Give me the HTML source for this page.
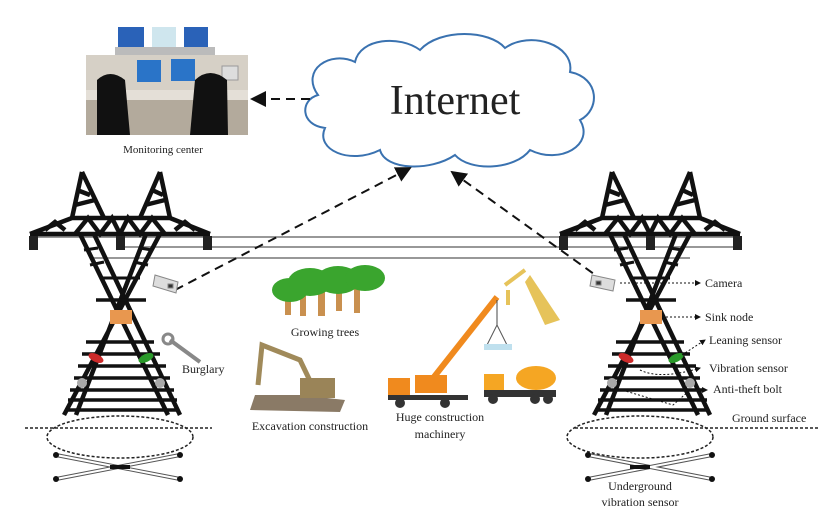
<!DOCTYPE html>
<html><head><meta charset="utf-8"><style>
html,body{margin:0;padding:0;background:#fff;}
svg{display:block;}
text{font-family:"Liberation Serif",serif;fill:#222;}
</style></head><body>
<svg width="838" height="522" viewBox="0 0 838 522" xmlns="http://www.w3.org/2000/svg">
<defs>
<marker id="ah" markerWidth="8" markerHeight="8" refX="7" refY="4" orient="auto"><path d="M0,0 L8,4 L0,8 z" fill="#111"/></marker>
<marker id="ah2" markerWidth="6" markerHeight="6" refX="5" refY="3" orient="auto"><path d="M0,0 L6,3 L0,6 z" fill="#111"/></marker>
<g id="tower" stroke="#111" stroke-width="4.5" fill="none" stroke-linejoin="miter">
  <path d="M82,172 L72,218 M82,172 L104,218 M75,205 L95,200 M77,190 L90,195"/>
  <path d="M160,172 L140,218 M160,172 L170,218 M145,205 L165,200 M152,190 L163,195"/>
  <path d="M30,234 L210,234 M30,234 L72,218 L170,218 L210,234"/>
  <path d="M45,230 L55,222 L65,230 M75,234 L88,218 L100,234 L112,218 L120,234 L128,218 L140,234 L152,218 L165,234 M175,230 L185,222 L195,230"/>
  <path d="M80,234 L168,415 M94,234 L180,415"/>
  <path d="M160,234 L64,415 M146,234 L76,415"/>
  <path d="M84,250 L98,248 M90,265 L104,262 M152,250 L140,248 M148,265 L134,262 M100,278 L140,278" stroke-width="3"/>
  <path d="M96,300 L146,300 M86,342 L154,342 M82,354 L160,354 M78,366 L166,366 M74,378 L170,378 M70,390 L174,390 M68,400 L177,400 M65,410 L179,410" stroke-width="3.5"/>
  <g fill="#222" stroke="none"><rect x="29" y="236" width="9" height="14"/><rect x="116" y="236" width="9" height="14"/><rect x="203" y="236" width="9" height="14"/></g>
  <rect x="110" y="310" width="22" height="14" fill="#e8974f" stroke="none"/>
  <ellipse cx="96" cy="358" rx="8" ry="4" fill="#cc2a2a" stroke="none" transform="rotate(25 96 358)"/>
  <ellipse cx="146" cy="358" rx="8" ry="4" fill="#2a9a2a" stroke="none" transform="rotate(-25 146 358)"/>
  <circle cx="82" cy="383" r="5" fill="#aaa" stroke="none"/>
  <circle cx="160" cy="383" r="5" fill="#aaa" stroke="none"/>
</g>
</defs>

<g stroke="#777" stroke-width="1.5">
<line x1="38" y1="237" x2="740" y2="237"/>
<line x1="125" y1="247" x2="740" y2="247"/>
<line x1="93" y1="258" x2="690" y2="258"/>
</g>

<use href="#tower"/>
<use href="#tower" x="530"/>

<rect x="86" y="55" width="162" height="80" fill="#d6d0c6"/>
<rect x="86" y="100" width="162" height="35" fill="#b3aa9c"/>
<rect x="86" y="90" width="162" height="10" fill="#e4dfd7"/>
<rect x="118" y="27" width="26" height="20" fill="#2a62b8"/>
<rect x="152" y="27" width="24" height="20" fill="#cfe6ee"/>
<rect x="184" y="27" width="24" height="20" fill="#2a62b8"/>
<rect x="115" y="47" width="100" height="8" fill="#bbb"/>
<rect x="137" y="60" width="24" height="22" fill="#2a74c8"/>
<rect x="171" y="59" width="24" height="22" fill="#2a74c8"/>
<rect x="222" y="66" width="16" height="14" fill="#ddd" stroke="#999"/>
<path d="M97,135 L97,80 Q110,68 125,80 L130,135 z" fill="#111"/>
<path d="M190,135 L195,80 Q210,66 227,80 L228,135 z" fill="#111"/>
<text x="163" y="153" font-size="11" text-anchor="middle">Monitoring center</text>

<path d="M318,95 C300,70 330,50 355,62 C360,38 400,35 420,50 C440,28 490,30 505,48 C530,30 575,45 570,72 C600,78 600,110 580,120 C595,145 560,165 530,150 C515,170 470,172 455,155 C430,172 385,170 380,150 C350,165 315,150 325,128 C300,125 300,100 318,95 z" fill="#fff" stroke="#3a72b0" stroke-width="2"/>
<text x="455" y="114" font-size="42" text-anchor="middle">Internet</text>

<g stroke="#111" stroke-width="2" stroke-dasharray="9,6" fill="none">
<line x1="310" y1="99" x2="252" y2="99" marker-end="url(#ah)"/>
<line x1="175" y1="290" x2="410" y2="168" marker-end="url(#ah)"/>
<line x1="605" y1="282" x2="452" y2="172" marker-end="url(#ah)"/>
</g>

<g fill="#ddd" stroke="#888" stroke-width="1">
<path d="M155,275 L178,282 L176,293 L153,286 z"/><rect x="168" y="284" width="5" height="4" fill="#333"/>
<path d="M592,275 L615,280 L613,291 L590,286 z"/><rect x="596" y="281" width="5" height="4" fill="#333"/>
</g>

<path d="M170,340 L200,362" stroke="#888" stroke-width="4"/>
<circle cx="168" cy="339" r="5" fill="none" stroke="#888" stroke-width="3"/>
<text x="182" y="373" font-size="12">Burglary</text>

<g fill="#c9904f"><rect x="285" y="290" width="6" height="25"/><rect x="300" y="288" width="6" height="28"/><rect x="318" y="290" width="7" height="26"/><rect x="336" y="285" width="6" height="26"/><rect x="354" y="285" width="6" height="28"/></g>
<g fill="#3aa52e"><ellipse cx="290" cy="290" rx="18" ry="12"/><ellipse cx="310" cy="282" rx="22" ry="14"/><ellipse cx="338" cy="280" rx="22" ry="14"/><ellipse cx="365" cy="278" rx="20" ry="13"/></g>
<text x="325" y="336" font-size="12" text-anchor="middle">Growing trees</text>

<path d="M250,410 L340,412 L345,400 L300,395 L255,395 z" fill="#8a7a66"/>
<path d="M258,385 L262,345 L300,360 L312,385" stroke="#a08a5a" stroke-width="5" fill="none"/>
<rect x="300" y="378" width="35" height="20" fill="#9a8458"/>
<text x="310" y="430" font-size="12" text-anchor="middle">Excavation construction</text>

<line x1="430" y1="382" x2="497" y2="297" stroke="#f08a1e" stroke-width="6"/>
<line x1="497" y1="300" x2="497" y2="325" stroke="#444" stroke-width="1"/>
<path d="M497,325 L487,345 M497,325 L507,345" stroke="#555" stroke-width="1" fill="none"/>
<rect x="484" y="344" width="28" height="6" fill="#bfe0ee"/>
<rect x="388" y="378" width="22" height="20" fill="#f08a1e"/>
<rect x="415" y="375" width="32" height="18" fill="#f08a1e"/>
<rect x="388" y="395" width="80" height="5" fill="#333"/>
<circle cx="400" cy="403" r="5" fill="#333"/><circle cx="445" cy="403" r="5" fill="#333"/>
<path d="M530,275 L560,320 L545,325 L525,282 z" fill="#e6c35a"/>
<path d="M505,285 L525,270" stroke="#e6c35a" stroke-width="4"/>
<path d="M508,290 L508,305" stroke="#e6c35a" stroke-width="4"/>
<ellipse cx="536" cy="378" rx="20" ry="12" fill="#f5a623"/>
<rect x="484" y="374" width="20" height="18" fill="#f5a623"/>
<rect x="484" y="390" width="72" height="7" fill="#333"/>
<circle cx="493" cy="399" r="5" fill="#333"/><circle cx="535" cy="399" r="5" fill="#333"/><circle cx="548" cy="399" r="5" fill="#333"/>
<text x="440" y="421" font-size="12" text-anchor="middle">Huge construction</text>
<text x="440" y="438" font-size="12" text-anchor="middle">machinery</text>

<g stroke="#111" stroke-width="1" stroke-dasharray="2,2" fill="none">
<line x1="620" y1="283" x2="700" y2="283" marker-end="url(#ah2)"/>
<line x1="662" y1="317" x2="700" y2="317" marker-end="url(#ah2)"/>
<path d="M682,355 L705,340" marker-end="url(#ah2)"/>
<path d="M640,370 Q660,380 700,368" marker-end="url(#ah2)"/>
<path d="M615,388 L673,405 L690,390 L707,390" marker-end="url(#ah2)"/>
</g>
<g font-size="12">
<text x="705" y="287">Camera</text>
<text x="705" y="321">Sink node</text>
<text x="709" y="344">Leaning sensor</text>
<text x="709" y="372">Vibration sensor</text>
<text x="713" y="393">Anti-theft bolt</text>
<text x="732" y="422">Ground surface</text>
<text x="640" y="490" text-anchor="middle">Underground</text>
<text x="640" y="506" text-anchor="middle">vibration sensor</text>
</g>

<g stroke="#222" stroke-width="1.5" stroke-dasharray="3,2" fill="none">
<line x1="25" y1="428" x2="212" y2="428"/>
<line x1="575" y1="428" x2="820" y2="428"/>
<ellipse cx="120" cy="437" rx="73" ry="21"/>
<ellipse cx="640" cy="437" rx="73" ry="21"/>
</g>

<g fill="#111">
<g stroke="#555" stroke-width="4"><line x1="56" y1="455" x2="180" y2="479"/><line x1="56" y1="479" x2="180" y2="455"/><line x1="588" y1="455" x2="712" y2="479"/><line x1="588" y1="479" x2="712" y2="455"/></g>
<g stroke="#fff" stroke-width="2"><line x1="56" y1="455" x2="180" y2="479"/><line x1="56" y1="479" x2="180" y2="455"/><line x1="588" y1="455" x2="712" y2="479"/><line x1="588" y1="479" x2="712" y2="455"/></g>
<rect x="110" y="465" width="20" height="4" fill="#111"/>
<rect x="630" y="465" width="20" height="4" fill="#111"/>
<circle cx="56" cy="455" r="3"/><circle cx="180" cy="479" r="3"/><circle cx="56" cy="479" r="3"/><circle cx="180" cy="455" r="3"/>
<circle cx="588" cy="455" r="3"/><circle cx="712" cy="479" r="3"/><circle cx="588" cy="479" r="3"/><circle cx="712" cy="455" r="3"/>
</g>
</svg>
</body></html>
